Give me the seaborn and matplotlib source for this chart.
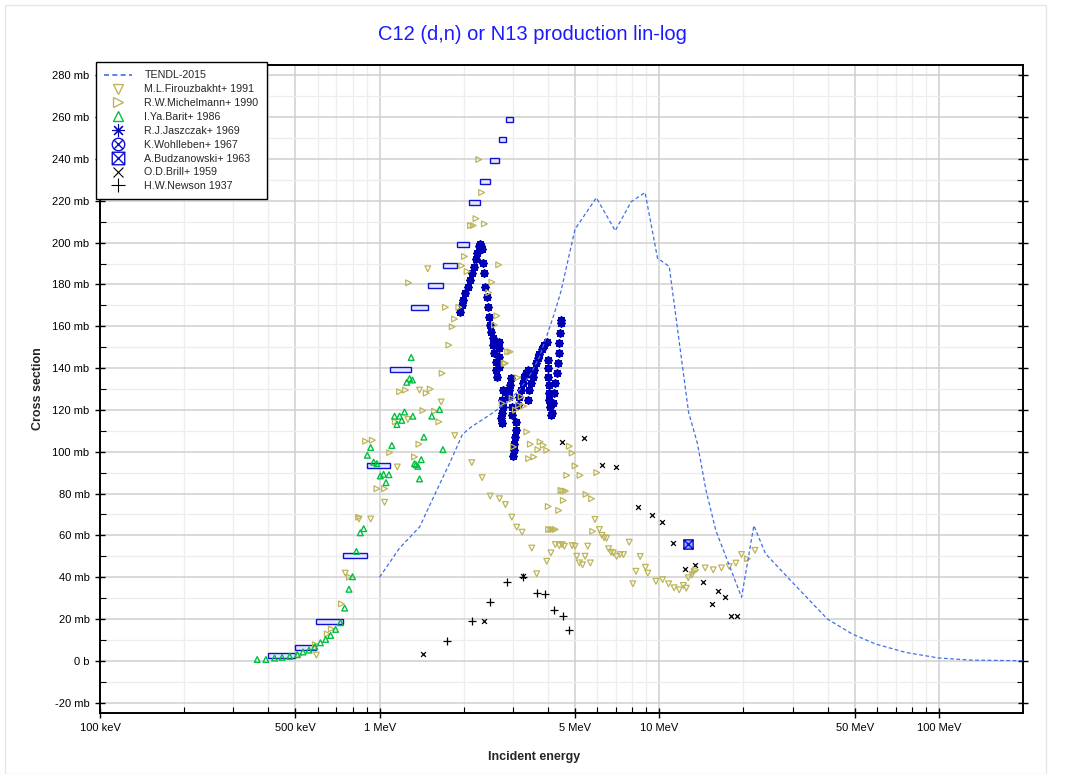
import numpy as np
import pandas as pd
import matplotlib
matplotlib.use("Agg")
import matplotlib.pyplot as plt
import seaborn as sns
from matplotlib.path import Path
from matplotlib.lines import Line2D
from matplotlib.patches import Rectangle
from matplotlib.ticker import FixedLocator, NullFormatter, MultipleLocator, FuncFormatter

# ---------------- data (energy in MeV, cross section in mb) ----------------
tendl_e = [1.0, 1.18, 1.39, 1.6, 1.78, 1.98, 2.13, 2.47, 2.83, 3.16, 3.48, 3.73, 3.99,
           4.22, 4.45, 5.0, 5.96, 6.96, 7.94, 8.9, 9.86, 10.86, 12.73, 13.7, 14.7, 15.94,
           19.7, 21.8, 24.0, 29.5, 39.9, 49.0, 59.4, 76.0, 100.0, 131.0, 200.0]
tendl_xs = [40, 54, 64, 81.5, 94.5, 108.4, 111.9, 117.5, 123.1, 129.5, 137.5, 145.4, 156.7,
            166.3, 176.6, 206.5, 221.5, 205.7, 219.6, 224, 192.6, 188.6, 119, 103.9, 81.5, 62.3,
            30.4, 64.7, 51.2, 38.4, 20, 12.8, 8, 4, 1.3, 0.3, 0.0]

firouz_e = [0.594, 0.754, 0.844, 0.929, 1.042, 1.157, 1.262, 1.389, 1.487, 1.66, 1.857, 2.136,
            2.326, 2.486, 2.683, 2.818, 2.97, 3.094, 3.233, 3.50, 3.647, 3.96, 4.10, 4.25, 4.39,
            4.49, 4.58, 4.88, 5.0, 5.07, 5.43, 5.18, 5.32, 5.67, 5.55, 5.89, 6.11, 6.24, 6.36,
            6.48, 6.59, 6.72, 6.85, 7.04, 7.24, 7.45, 7.81, 8.05, 8.26, 8.55, 8.93, 9.1, 9.73,
            10.28, 10.8, 11.3, 11.79, 12.2, 12.5, 12.7, 13.1, 14.6, 15.6, 16.7, 17.8, 18.8,
            19.7, 22.0]
firouz_xs = [2.7, 41.9, 67.8, 67.8, 75.8, 92.7, 115.4, 129.5, 187.5, 123.8, 107.7, 94.8,
             87.6, 78.8, 77.5, 74.7, 68.7, 63.9, 61.5, 53.9, 41.6, 47.6, 51.6, 55.6, 55.1,
             55.6, 54.8, 55.1, 54.8, 50, 50, 46.8, 45.9, 46.8, 54.8, 67.6, 62.8, 60, 58.8,
             58.6, 53.6, 51.9, 51.6, 49.9, 50.8, 50.8, 56.7, 36.8, 42.8, 49.9, 44.7, 41.9, 38,
             38.8, 36.8, 34.9, 33.9, 36, 34.7, 39.7, 41.1, 44.4, 43.5, 44.4, 45.1, 46.7,
             50.8, 52.8]

michel_e = [0.515, 0.589, 0.65, 0.672, 0.73, 0.78, 0.841, 0.891, 0.942, 0.978, 1.042, 1.086,
            1.138, 1.179, 1.238, 1.269, 1.333, 1.382, 1.428, 1.468, 1.517, 1.572, 1.629, 1.673,
            1.72, 1.768, 1.818, 1.853, 1.92, 1.967, 2.012, 2.056, 2.114, 2.163, 2.212, 2.263,
            2.317, 2.37, 2.457, 2.52, 2.575, 2.625, 2.666, 2.743, 2.79, 2.818, 2.87, 2.93,
            2.978, 3.01, 3.06, 3.12, 3.14, 3.206, 3.27, 3.36, 3.41, 3.46, 3.56, 3.68, 3.75,
            3.85, 3.96, 4.01, 4.16, 4.02, 4.10, 4.25, 4.37, 4.45, 4.52, 4.62, 4.54, 4.67, 4.77,
            4.88, 5.0, 5.21, 5.47, 5.73, 5.98, 5.78, 13.35, 13.5, 20.7]
michel_xs = [2.7, 7.7, 12.8, 15.2, 27.2, 40, 68.7, 105, 105.5, 82.3, 82.3, 99.6,
             114.3, 128.7, 129.5, 180.8, 97.5, 103.6, 119.7, 128, 130, 119.4, 114.3, 137.5,
             169.1, 151, 159.8, 163.5, 169.1, 189, 193.4, 186.2, 208.2, 208.2, 211.5, 239.8,
             224, 209, 176.1, 181.1, 160.6, 165, 189.4, 123.1, 142.3, 142.3, 147.8, 147.8,
             125.5, 102.3, 119.9, 135.4, 122.3, 126.3, 121.8, 109.5, 96.7, 103.6, 97.5, 101, 104.7,
             103.1, 100.7, 73.8, 62.8, 62.8, 62.8, 62.8, 71.9, 81.5, 81.2, 81.2, 76.7, 88.7, 102.6,
             99.4, 93.2, 88.7, 79.6, 77.5, 90, 61.9, 42.7, 43.5, 48.8]

barit_e = [0.365, 0.392, 0.421, 0.448, 0.477, 0.508, 0.532, 0.559, 0.586, 0.614, 0.641, 0.668,
           0.696, 0.724, 0.75, 0.777, 0.80, 0.826, 0.853, 0.877, 0.904, 0.929, 0.952, 0.978,
           1.006, 1.033, 1.054, 1.08, 1.106, 1.131, 1.153, 1.179, 1.2, 1.228, 1.25, 1.28,
           1.297, 1.31, 1.315, 1.333, 1.35, 1.37, 1.389, 1.409, 1.44, 1.537, 1.638, 1.684]
barit_xs = [0.6, 0.6, 1.3, 1.6, 2.1, 2.9, 4.2, 5.1, 6.7, 8.6, 10.2, 12.1,
            15, 18.2, 25.2, 34.2, 40.2, 52.3, 61.2, 63.2, 98.3, 102, 95, 94.3,
            88.4, 89.2, 85.2, 89, 103, 117, 113, 117, 115, 119, 133.2, 135,
            145.1, 134.3, 117, 94.3, 93.8, 93, 87, 96.2, 107, 117, 120.2, 101]

jasz_e = [1.942, 1.974, 1.995, 2.028, 2.068, 2.108, 2.137, 2.167, 2.203, 2.233, 2.263, 2.289,
          2.31, 2.326, 2.352, 2.371, 2.391, 2.416, 2.436, 2.471, 2.486, 2.506, 2.539, 2.554,
          2.575, 2.597, 2.611, 2.625, 2.668, 2.683, 2.668, 2.645, 2.683,
          2.757, 2.818, 2.743, 2.757, 2.735, 2.72, 2.735,
          2.953, 2.929, 2.913, 2.897, 2.978, 2.978, 3.077, 3.077, 3.06, 3.035, 3.019, 3.01,
          3.12, 3.162, 3.206, 3.25, 3.296, 3.342, 3.386,
          3.387, 3.434, 3.482, 3.529, 3.577, 3.627, 3.677, 3.728, 3.81, 3.882, 3.96,
          3.99, 3.99, 4.016, 4.03, 4.05, 4.05, 4.07, 4.10,
          4.14, 4.18, 4.22, 4.25, 4.30, 4.34, 4.37, 4.39, 4.42, 4.44, 4.45]
jasz_xs = [167, 170.2, 172.6, 175.8, 179, 182.2, 185.4, 188.6, 192.1, 195, 198.2, 199.5,
           198.5, 196.9, 190.2, 185.4, 179, 174.2, 169.4, 164.6, 160.6, 157.4, 154.3, 151,
           147, 143, 139, 135.9, 152.6, 149.5, 145.5, 143, 140.6,
           129.5, 128.7, 124.7, 121.5, 118.3, 115.9, 113.5,
           135.1, 131.9, 129.5, 126.3, 121.5, 117.5, 114.3, 110.3, 107.1, 103.9, 100.7, 97.8,
           122.3, 126.3, 129.5, 132.7, 135.6, 137.8, 139,
           124.7, 129.5, 132.7, 135.8, 139, 142.3, 144.7, 146.7, 149, 151, 152.6,
           143.9, 139.9, 135.8, 131.9, 127.9, 124.7, 121.5, 117.5,
           118.3, 123.1, 127.9, 132.7, 137.5, 142.3, 147, 151.9, 156.7, 161.5, 163]

wohl_lo = [0.40, 0.50, 0.59, 0.74, 0.90, 1.09, 1.29, 1.49, 1.69, 1.89, 2.09, 2.29, 2.48, 2.68, 2.83]
wohl_hi = [0.50, 0.59, 0.74, 0.90, 1.09, 1.29, 1.49, 1.69, 1.89, 2.09, 2.29, 2.48, 2.68, 2.83, 3.00]
wohl_xs = [2.4, 6.5, 18.7, 50.3, 93.5, 139.5, 169, 179.3, 189.3, 199.1, 219.1, 229.2, 239.3, 249.2, 259.1]

budz_e = [12.7]
budz_xs = [56]

brill_e = [1.428, 2.371, 3.25, 4.48, 5.40, 6.22, 7.0, 8.37, 9.39, 10.22, 11.16, 12.36, 13.41,
           14.36, 15.5, 16.29, 17.2, 18.03, 18.9]
brill_xs = [3.2, 19.2, 40.4, 104.5, 106.6, 93.5, 92.7, 73.5, 69.9, 66.3, 56.4, 44, 46,
            37.9, 27.2, 33.6, 30.4, 21.6, 21.6]

newson_e = [1.745, 2.143, 2.485, 2.85, 3.25, 3.66, 3.92, 4.22, 4.52, 4.77]
newson_xs = [9.3, 19.2, 28, 37.5, 40, 32.3, 32, 24.5, 21.6, 14.7]

x_ticks = [0.1, 0.5, 1, 5, 10, 50, 100]
x_ticklabels = ["100 keV", "500 keV", "1 MeV", "5 MeV", "10 MeV", "50 MeV", "100 MeV"]
x_minor = [0.2, 0.3, 0.4, 0.6, 0.7, 0.8, 0.9, 2, 3, 4, 6, 7, 8, 9, 20, 30, 40, 60, 70, 80, 90]

labels = ["TENDL-2015", "M.L.Firouzbakht+ 1991", "R.W.Michelmann+ 1990", "I.Ya.Barit+ 1986",
          "R.J.Jaszczak+ 1969", "K.Wohlleben+ 1967", "A.Budzanowski+ 1963", "O.D.Brill+ 1959",
          "H.W.Newson 1937"]

# ---------------- style ----------------
sns.set_style("white")
plt.rcParams["font.family"] = ["Liberation Sans", "DejaVu Sans"]

C_TENDL = "#3f6fe6"
C_KHAKI = "#bdb55a"
C_GREEN = "#00c040"
C_JASZ = "#0000b4"
C_BLUE = "#1010d0"

circ_x = Path.make_compound_path(
    Path.unit_circle(),
    Path([(-0.7, -0.7), (0.7, 0.7)], [Path.MOVETO, Path.LINETO]),
    Path([(-0.7, 0.7), (0.7, -0.7)], [Path.MOVETO, Path.LINETO]))
box_x = Path.make_compound_path(
    Path([(-1, -1), (1, -1), (1, 1), (-1, 1), (-1, -1)],
         [Path.MOVETO, Path.LINETO, Path.LINETO, Path.LINETO, Path.CLOSEPOLY]),
    Path([(-1, -1), (1, 1)], [Path.MOVETO, Path.LINETO]),
    Path([(-1, 1), (1, -1)], [Path.MOVETO, Path.LINETO]))

fig = plt.figure(figsize=(10.71, 7.74), dpi=100)
ax = fig.add_axes([100 / 1071, 1 - 713 / 774, 923 / 1071, 648 / 774])
ax.set_xscale("log")

# Wohlleben energy-bin boxes
h = 2.4
for lo, hi, v in zip(wohl_lo, wohl_hi, wohl_xs):
    ax.bar(x=lo, height=h, width=hi - lo, bottom=v - h / 2, align="edge",
           facecolor="#e4e7ff", edgecolor=C_BLUE, linewidth=1.0, zorder=3)

sns.scatterplot(x=newson_e, y=newson_xs, marker="+", s=40, color="black", linewidth=0.9, ax=ax, zorder=3)
sns.scatterplot(x=brill_e, y=brill_xs, marker="x", s=12, color="black", linewidth=0.9, ax=ax, zorder=3)
sns.scatterplot(x=jasz_e, y=jasz_xs, marker=(8, 2, 0), s=24, color=C_JASZ, linewidth=1.4, ax=ax, zorder=4)
sns.scatterplot(x=firouz_e, y=firouz_xs, marker="v", s=17, facecolors="none", edgecolor=C_KHAKI,
                linewidth=0.9, ax=ax, zorder=5)
sns.scatterplot(x=michel_e, y=michel_xs, marker=">", s=17, facecolors="none", edgecolor=C_KHAKI,
                linewidth=0.9, ax=ax, zorder=5)
sns.scatterplot(x=barit_e, y=barit_xs, marker="^", s=17, facecolors="none", edgecolor=C_GREEN,
                linewidth=1.0, ax=ax, zorder=5)
sns.scatterplot(x=budz_e, y=budz_xs, marker=box_x, s=45, facecolors="#9aa8ff", edgecolor=C_BLUE,
                linewidth=1.0, ax=ax, zorder=5)
sns.lineplot(x=tendl_e, y=tendl_xs, color=C_TENDL, linewidth=0.9, linestyle=(0, (3, 2)),
             sort=False, estimator=None, ax=ax, zorder=6)

# axes
ax.set_xlim(0.1, 200)
ax.set_ylim(-25, 285)
ax.xaxis.set_major_locator(FixedLocator(x_ticks))
ax.xaxis.set_minor_locator(FixedLocator(x_minor))
ax.xaxis.set_minor_formatter(NullFormatter())
ax.set_xticklabels(x_ticklabels)
ax.yaxis.set_major_locator(MultipleLocator(20))
ax.yaxis.set_minor_locator(MultipleLocator(10))
ax.yaxis.set_major_formatter(FuncFormatter(lambda v, p: "0 b" if abs(v) < 1e-9 else f"{int(round(v))} mb"))

ax.grid(which="major", color="#cfcfcf", linewidth=1.1)
ax.grid(which="minor", color="#ededed", linewidth=0.9)
ax.set_axisbelow(True)
ax.tick_params(which="major", direction="inout", length=7, width=1, colors="black",
               labelsize=8, right=True, top=False, left=True, bottom=True, pad=4)
ax.tick_params(which="minor", direction="in", length=4, width=0.8, colors="black",
               right=True, top=False, left=True, bottom=True)
for s in ax.spines.values():
    s.set_color("black")
    s.set_linewidth(1.4)
ax.set_xlabel("")
ax.set_ylabel("")

# legend
handles = [
    Line2D([], [], color=C_TENDL, linestyle=(0, (3, 2)), linewidth=1.2),
    Line2D([], [], marker="v", linestyle="none", markerfacecolor="none", markeredgecolor=C_KHAKI, markersize=7),
    Line2D([], [], marker=">", linestyle="none", markerfacecolor="none", markeredgecolor=C_KHAKI, markersize=7),
    Line2D([], [], marker="^", linestyle="none", markerfacecolor="none", markeredgecolor=C_GREEN, markersize=7),
    Line2D([], [], marker=(8, 2, 0), linestyle="none", color=C_JASZ, markersize=9, markeredgewidth=0.8),
    Line2D([], [], marker=circ_x, linestyle="none", markerfacecolor="none", markeredgecolor=C_BLUE, markersize=9),
    Line2D([], [], marker=box_x, linestyle="none", markerfacecolor="none", markeredgecolor=C_BLUE, markersize=9),
    Line2D([], [], marker="x", linestyle="none", color="black", markersize=7, markeredgewidth=0.8),
    Line2D([], [], marker="+", linestyle="none", color="black", markersize=10, markeredgewidth=0.8),
]
leg = ax.legend(handles=handles, labels=labels, loc="upper left", bbox_to_anchor=(-0.004, 1.004),
                borderaxespad=0, fontsize=7.7, frameon=True, fancybox=False, framealpha=1,
                edgecolor="black", handlelength=2.6, handletextpad=1.15, labelspacing=0.36,
                borderpad=0.75)
leg.get_frame().set_linewidth(1.0)
leg.set_zorder(10)

# texts
fig.text(0.497, 1 - 35 / 774, "C12 (d,n) or N13 production lin-log", ha="center", va="center",
         color="#1a1aff", fontsize=14.5)
fig.text(38 / 1071, 1 - 389 / 774, "Cross section", rotation=90, ha="center", va="center",
         fontsize=9, fontweight="bold")
fig.text(534 / 1071, 1 - 757 / 774, "Incident energy", ha="center", va="center",
         fontsize=9, fontweight="bold")

# faint outer frame
fig.patches.append(Rectangle((5 / 1071, 0), 1041 / 1071, 1 - 5 / 774, transform=fig.transFigure,
                             fill=False, edgecolor="#e6e6e6", linewidth=1.0))

fig.savefig("out.png", dpi=100)
